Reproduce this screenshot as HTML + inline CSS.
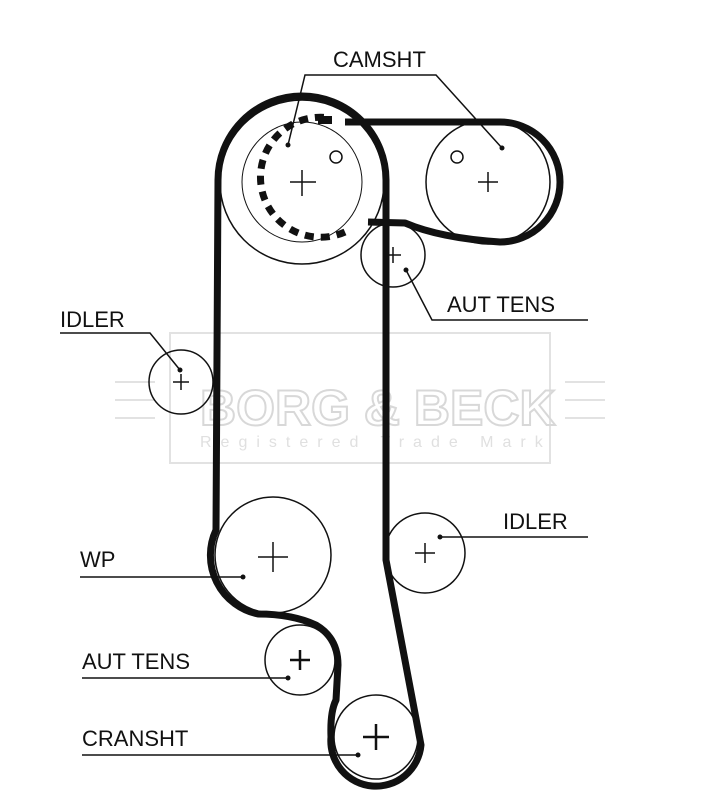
<!DOCTYPE html>
<html><head><style>
html,body{margin:0;padding:0;background:#fff;}
svg{display:block;}
text{font-family:"Liberation Sans",sans-serif;fill:#111;}
</style></head><body>
<svg width="722" height="800" viewBox="0 0 722 800" xmlns="http://www.w3.org/2000/svg">
<g stroke="#e2e2e2" stroke-width="2" fill="none">
<rect x="170" y="333" width="380" height="130"/>
<line x1="115" y1="382" x2="155" y2="382"/><line x1="115" y1="400" x2="155" y2="400"/><line x1="115" y1="418" x2="155" y2="418"/>
<line x1="565" y1="382" x2="605" y2="382"/><line x1="565" y1="400" x2="605" y2="400"/><line x1="565" y1="418" x2="605" y2="418"/>
</g>
<text x="200" y="425" font-size="50" font-weight="bold" stroke="#d8d8d8" stroke-width="2" style="fill:none">BORG &amp; BECK</text>
<text x="200" y="447" font-size="16" style="fill:#e0e0e0" letter-spacing="9">Registered Trade Mark</text>

<g fill="none" stroke="#111" stroke-width="1.5">
<circle cx="302" cy="182" r="82"/>
<circle cx="488" cy="182" r="62"/>
<circle cx="393" cy="255" r="32"/>
<circle cx="181" cy="382" r="32"/>
<circle cx="273" cy="555" r="58"/>
<circle cx="425" cy="553" r="40"/>
<circle cx="300" cy="660" r="35"/>
<circle cx="376" cy="737" r="42"/>
<circle cx="336" cy="157" r="6"/>
<circle cx="457" cy="157" r="6"/>
</g>
<path d="M345 232 A60 60 0 1 1 330 118" fill="none" stroke="#111" stroke-width="7" stroke-dasharray="9 7"/>
<circle cx="302" cy="182" r="60" fill="none" stroke="#111" stroke-width="1"/>
<g stroke="#111" stroke-width="1.5">
<path d="M290 182h26M302 170v26"/>
<path d="M478 182h20M488 172v20"/>
<path d="M385 255h16M393 247v16"/>
<path d="M173 382h16M181 374v16"/>
<path d="M258 557h30M273 542v30"/>
<path d="M415 553h20M425 543v20"/>
<path d="M290 660h20M300 650v20" stroke-width="2.5"/>
<path d="M363 737h26M376 724v26" stroke-width="2.5"/>
</g>
<g fill="none" stroke="#111" stroke-width="7" stroke-linejoin="round">
<path d="M386 560 L386 180 A84 84 0 0 0 218 180 L216 530 A60 60 0 0 0 258 614 Q292 614 316 625 Q338 638 338 665 L336 700 Q330 712 331 737 A45 45 0 0 0 421 745 Z"/>
<path d="M345 122 L500 122 A60 60 0 0 1 500 242 Q440 238 405 223 L368 222"/>
</g>
<rect x="318" y="116" width="14" height="8" fill="#111"/>
<g stroke="#111" stroke-width="1.5" fill="none">
<path d="M288 145 L305 75 L436 75 L502 148"/>
<path d="M406 270 L432 320 L588 320"/>
<path d="M60 333 L150 333 L180 370"/>
<path d="M588 537 L440 537"/>
<path d="M80 577 L243 577"/>
<path d="M82 678 L288 678"/>
<path d="M82 755 L358 755"/>
</g>
<g fill="#111">
<circle cx="288" cy="145" r="2.5"/><circle cx="502" cy="148" r="2.5"/><circle cx="406" cy="270" r="2.5"/>
<circle cx="180" cy="370" r="2.5"/><circle cx="440" cy="537" r="2.5"/><circle cx="243" cy="577" r="2.5"/>
<circle cx="288" cy="678" r="2.5"/><circle cx="358" cy="755" r="2.5"/>
</g>
<g font-size="22">
<text x="333" y="67">CAMSHT</text>
<text x="447" y="312">AUT TENS</text>
<text x="60" y="327">IDLER</text>
<text x="503" y="529">IDLER</text>
<text x="80" y="567">WP</text>
<text x="82" y="669">AUT TENS</text>
<text x="82" y="746">CRANSHT</text>
</g>
</svg>
</body></html>
